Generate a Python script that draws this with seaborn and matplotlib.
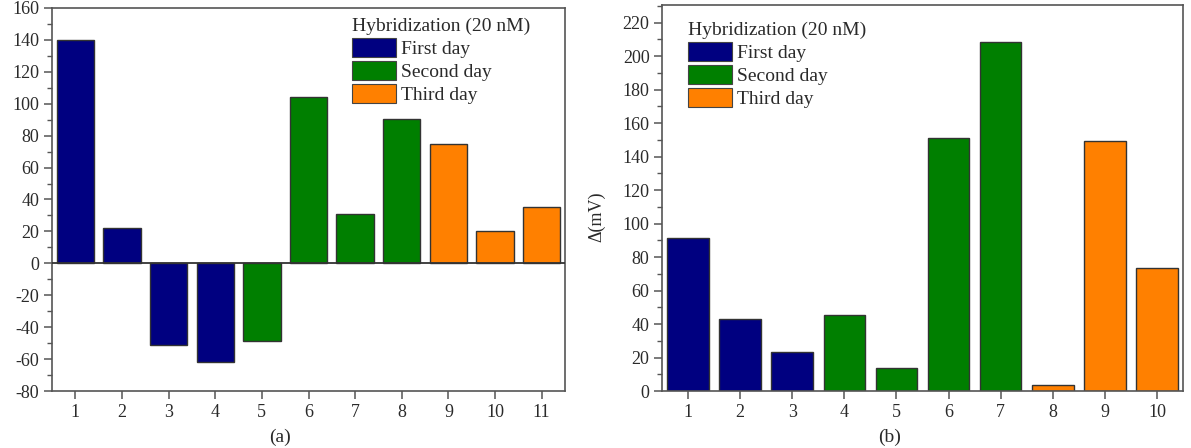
import numpy as np
import pandas as pd
import seaborn as sns
import matplotlib.pyplot as plt
import matplotlib.patches as mpatches
from matplotlib.ticker import MultipleLocator

sns.set_theme(style='white')
plt.rcParams['font.family'] = ['Liberation Serif', 'DejaVu Serif']
plt.rcParams['axes.unicode_minus'] = False

# data
samples_a = list(range(1, 12))
values_a = [140, 22, -51, -62, -48.5, 104, 31, 90.5, 74.5, 20, 35.5]
days_a = ['First day'] * 4 + ['Second day'] * 4 + ['Third day'] * 3

samples_b = list(range(1, 11))
values_b = [91.5, 43, 23, 45.5, 14, 151, 208.5, 3.5, 149, 73.5]
days_b = ['First day'] * 3 + ['Second day'] * 4 + ['Third day'] * 3

day_names = ['First day', 'Second day', 'Third day']
day_colors = {'First day': '#000080', 'Second day': '#007F00', 'Third day': '#FF8000'}
legend_title = 'Hybridization (20 nM)'

frame_col = '#555555'
text_col = '#2a2a2a'

fig = plt.figure(figsize=(11.91, 4.48), dpi=100)
ax_a = fig.add_axes([52 / 1191, 57 / 448, 513 / 1191, 383 / 448])
ax_b = fig.add_axes([662 / 1191, 57 / 448, 521 / 1191, 386 / 448])


def draw_panel(ax, samples, values, days, ylim, yticks, legend_xy):
    df = pd.DataFrame({'sample': samples, 'value': values, 'day': days})
    sns.barplot(data=df, x='sample', y='value', hue='day', hue_order=day_names,
                palette=day_colors, native_scale=True, dodge=False, width=0.8,
                saturation=1, edgecolor='#333333', linewidth=1.0, legend=False, ax=ax)
    ax.set_xlim(0.5, len(samples) + 0.5)
    ax.set_ylim(*ylim)
    ax.set_xticks(samples)
    ax.set_xticklabels([str(s) for s in samples])
    ax.set_yticks(yticks)
    ax.yaxis.set_minor_locator(MultipleLocator(10))
    ax.set_xlabel('')
    ax.set_ylabel('')
    for sp in ax.spines.values():
        sp.set_color(frame_col)
        sp.set_linewidth(1.2)
    ax.tick_params(axis='both', which='major', direction='out', length=6, width=1.1,
                   color=frame_col, labelsize=13, labelcolor=text_col, pad=3,
                   left=True, bottom=True, top=False, right=False)
    ax.tick_params(axis='y', which='minor', direction='out', length=3.5, width=1.0,
                   color=frame_col, left=True, right=False)
    ax.tick_params(axis='x', which='minor', bottom=False, top=False)
    ax.grid(False)

    handles = [mpatches.Patch(facecolor=day_colors[d], edgecolor='#444444', linewidth=0.8)
               for d in day_names]
    leg = ax.legend(handles, day_names, title=legend_title, loc='upper left',
                    bbox_to_anchor=(legend_xy[0] / 1191, 1 - legend_xy[1] / 448),
                    bbox_transform=fig.transFigure, frameon=False, fontsize=14,
                    title_fontsize=14, alignment='left', borderpad=0, borderaxespad=0,
                    handlelength=2.25, handleheight=1.1, handletextpad=0.28,
                    labelspacing=0.15)
    for t in leg.get_texts():
        t.set_color(text_col)
    leg.get_title().set_color(text_col)


draw_panel(ax_a, samples_a, values_a, days_a, (-80, 160), np.arange(-80, 161, 20), (352, 18))
ax_a.axhline(0, color='#333333', linewidth=1.3, zorder=5)

draw_panel(ax_b, samples_b, values_b, days_b, (0, 230.5), np.arange(0, 221, 20), (688, 22))

fig.text(597 / 1191, 1 - 217 / 448, '\u0394(mV)', rotation=90, ha='center', va='center',
         fontsize=13, color=text_col)
fig.text(280 / 1191, 2 / 448, '(a)', ha='center', va='bottom', fontsize=14, color=text_col)
fig.text(890 / 1191, 2 / 448, '(b)', ha='center', va='bottom', fontsize=14, color=text_col)

fig.savefig('out.png', dpi=100)
